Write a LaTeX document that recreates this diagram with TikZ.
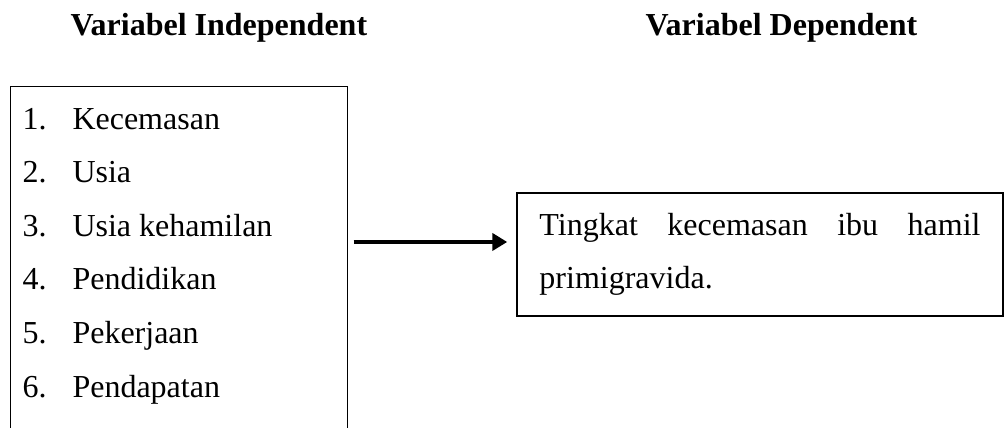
\documentclass[tikz,border=0pt]{standalone}
\usepackage{fontspec}
\setmainfont{Liberation Serif}
\usepackage{tikz}
\usetikzlibrary{arrows.meta}

\begin{document}
\begin{tikzpicture}[x=0.375pt,y=-0.375pt]
	\tikzstyle{txt}=[inner sep=0pt,anchor=base west,font=\fontsize{12}{19.9}\selectfont]
	\tikzstyle{head}=[txt,font=\fontsize{12}{19.9}\selectfont\bfseries]
	\tikzstyle{box}=[rectangle,draw,line width=0.5pt,font=\fontsize{12}{19.9}\selectfont]
	\tikzstyle{link}=[line width=1.5pt,-{Triangle[length=5.6pt,width=6.4pt]}]
	\useasboundingbox (0,0) rectangle (1004,427);
	\node (headL) at (70,35)  [head] {Variabel Independent};
	\node (headR) at (645,35) [head] {Variabel Dependent};
	\node (indep) at (179,257) [rectangle,minimum width=126pt,minimum height=127.5pt,inner sep=0pt] {};
	\node (item1) at (22,129)   [txt] {\makebox[18.75pt][l]{1.}Kecemasan};
	\node (item2) at (22,182.6) [txt] {\makebox[18.75pt][l]{2.}Usia};
	\node (item3) at (22,236.2) [txt] {\makebox[18.75pt][l]{3.}Usia kehamilan};
	\node (item4) at (22,289.8) [txt] {\makebox[18.75pt][l]{4.}Pendidikan};
	\node (item5) at (22,343.4) [txt] {\makebox[18.75pt][l]{5.}Pekerjaan};
	\node (item6) at (22,397)   [txt] {\makebox[18.75pt][l]{6.}Pendapatan};
	\node (dep) at (760,254.5) [box,text width=165.4pt,inner xsep=8.44pt,inner ysep=0pt,minimum height=46.1pt]
		{Tingkat\hfill kecemasan\hfill ibu\hfill hamil\\primigravida.};
	\draw [line width=0.5pt] (indep.south west) |- (indep.north east) -- (indep.south east);
	\draw [link] ([xshift=2.25pt,yshift=4.7pt]indep.east |- dep.west) -- ([xshift=-3.4pt,yshift=4.7pt]dep.west);
\end{tikzpicture}
\end{document}
